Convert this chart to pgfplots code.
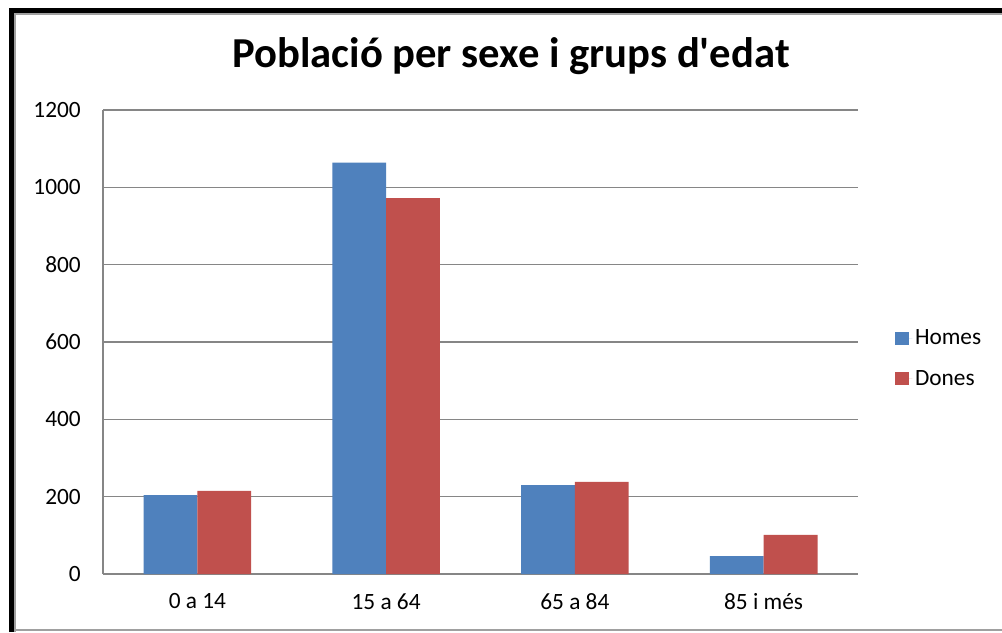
\documentclass[border=0pt]{standalone}
\usepackage{pgfplots}
\pgfplotsset{compat=1.18}
\usepackage{fontspec}
\setmainfont{Carlito}
\newfontfamily\titlefont{Carlito}
\definecolor{cblue}{HTML}{4F81BD}
\definecolor{cred}{HTML}{C0504D}
\definecolor{gridg}{HTML}{868686}
\definecolor{frameg}{HTML}{A0A0A0}
\begin{document}
\begin{tikzpicture}
\path[use as bounding box] (0pt,0pt) rectangle (751.5pt,474pt);
\fill[white] (0pt,0pt) rectangle (751.5pt,474pt);
% frame
\draw[frameg, line width=0.9pt] (11.25pt,0pt) -- (11.25pt,463.5pt) -- (751.5pt,463.5pt);
\draw[frameg, line width=0.9pt] (11.25pt,1.5pt) -- (751.5pt,1.5pt);
\draw[black, line width=3.75pt] (8.625pt,0pt) -- (8.625pt,466.125pt) -- (751.5pt,466.125pt);
% title
\node[anchor=base, font=\titlefont\fontsize{32}{36}\selectfont\bfseries] at (383.25pt,423.5pt) {Població per sexe i grups d'edat};
\begin{axis}[
  at={(77.25pt,43.5pt)}, anchor=south west,
  width=566.25pt, height=348pt, scale only axis,
  ybar=0pt, bar width=40.4pt,
  xmin=-0.5, xmax=3.5, ymin=0, ymax=1200,
  xtick=data, xticklabels={0 a 14, 15 a 64, 65 a 84, 85 i més},
  ytick={0,200,...,1200},
  axis x line*=bottom, axis y line*=left,
  axis line style={draw=gridg, line width=0.8pt, -},
  ymajorgrids, grid style={draw=gridg, line width=0.8pt},
  major tick length=0pt,
  tick label style={font=\fontsize{17.5}{21}\selectfont, text=black},
  yticklabel style={anchor=east, inner sep=0pt, xshift=-16.5pt},
  xticklabel style={anchor=north, inner sep=0pt, yshift=-14.5pt},
  /pgf/number format/assume math mode=true,
  /pgf/number format/1000 sep={},
  legend style={at={(rel axis cs:1.049,0.4644)}, anchor=west, draw=none, fill=none,
    font=\fontsize{17.5}{21}\selectfont, row sep=13.5pt, inner sep=0pt,
    legend cell align=left},
  legend image code/.code={\fill[#1] (0pt,-5pt) rectangle (10.2pt,5pt); \path (0pt,0pt) -- (12.8pt,0pt);},
]
\addplot[fill=cblue, draw=none] coordinates {(0,204) (1,1064) (2,230) (3,46)};
\addplot[fill=cred, draw=none] coordinates {(0,215) (1,972) (2,238) (3,101)};
\legend{Homes, Dones}
\end{axis}
\end{tikzpicture}
\end{document}
